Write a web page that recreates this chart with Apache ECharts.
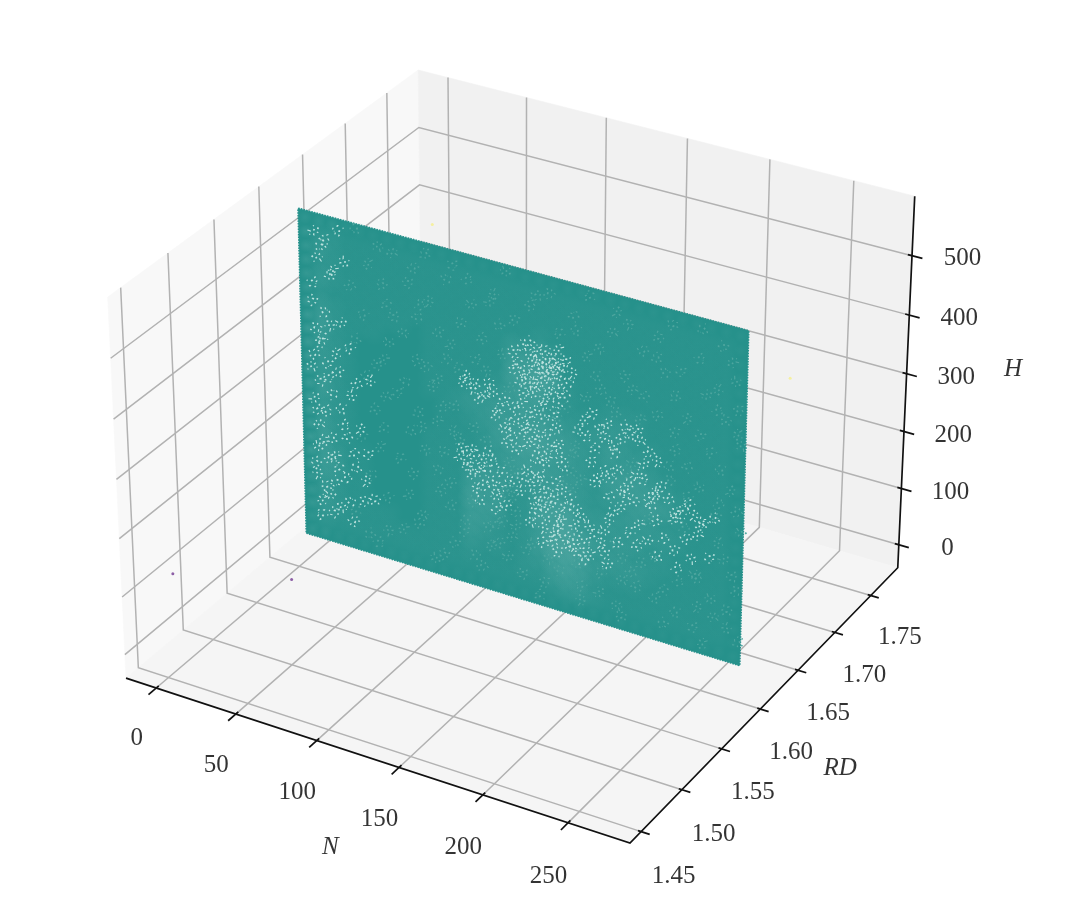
<!DOCTYPE html>
<html><head><meta charset="utf-8">
<script src="https://cdn.jsdelivr.net/npm/echarts@6/dist/echarts.min.js"></script>
<style>html,body{margin:0;padding:0;background:#fff}#c{width:1076px;height:899px;filter:blur(.5px)}</style>
</head><body><div id="c"></div>
<script>
// ---- axis data
const nTicks=[0,50,100,150,200,250];
const rdTicks=[1.45,1.50,1.55,1.60,1.65,1.70,1.75];
const hTicks=[0,100,200,300,400,500];
const nLim=[-19.2,285.8], rdLim=[1.4365,1.7885], hLim=[-41.2,598.8];
// ---- the sheet of points at RD 1.615
const sheetRD=1.615, sheetN=[-3.2,266.3], sheetH=[-3,558];
// lightness of the point cloud (top row = high H, left = low N)
const sheetDensity=[
"22211111111111111111111111111111",
"32211111111111111111111111111111",
"33211111111111111111111111111111",
"32211111111111111111111111111111",
"33211111111111111211111111111111",
"32111111111111133431111111111111",
"43211111011111145651111111111111",
"44211100011111156762111111111111",
"44210000011111245632112221111111",
"43210000011123345432223321111111",
"43210000011233445543233322111111",
"43210000001123455654324332111111",
"44210000001112456654323443211111",
"43210000011112345543324554321111",
"43210000011123344544323445421111",
"44210000011134433454322343221111",
"44211000011144422566333333321111",
"44311000011154412667433332211111",
"44311000011144312477643322211111",
"33211000011143212477633332111111",
"33211110011132212356532221111111",
"33211111111121112245421111111111",
"22111111111111111123321111111111",
"22111111111111111111111111111111"];
// bright gaps in the cloud [N,H], read region by region
const brightSpecks=[
[153,418],[151,424],[155,411],[141,410],[144,416],[147,404],[157,402],[150,396],[139,423],[134,431],[143,431],[160,427],[154,387],[145,385],[137,380],[149,374],[142,368],[133,374],[157,376],[140,358],[152,363],[131,402],[164,409],[148,436],[138,441],[156,442],[128,418],[162,392],[146,395],[136,392],[158,419],[149,413],[143,402],[152,405],[141,376],[129,388],[160,369],[147,352],[135,356],[155,350],
[134,336],[141,328],[147,319],[140,302],[144,288],[150,297],[155,310],[131,308],[135,288],[126,295],[152,275],[145,264],[137,270],[131,255],[142,247],[149,255],[157,262],[128,275],[123,284],[118,302],[138,318],[146,341],[129,326],[153,330],[136,296],[142,278],[148,244],[156,283],[125,262],[159,248],
[111,330],[105,346],[100,354],[116,341],[108,322],[120,316],[103,335],[114,354],[123,333],[98,344],
[176,352],[181,330],[185,341],[194,324],[199,335],[205,328],[168,319],[173,310],[189,308],[210,313],[178,295],[215,302],[184,318],[196,346],[172,338],[203,345],[190,296],[207,292],
[176,269],[184,262],[192,269],[199,255],[207,264],[215,251],[222,244],[231,236],[237,229],[243,222],[249,233],[226,225],[210,236],[188,252],[203,271],[218,262],[234,246],[180,245],[195,238],[241,216],[229,219],[213,243],
[105,225],[109,218],[101,209],[113,236],[108,198],[115,187],[111,176],[118,165],[103,189],[121,209],[97,229],[124,154],[118,141],[106,168],[100,200],[112,205],[95,215],[120,178],[108,148],[103,232],[126,196],[116,222],
[137,225],[142,214],[147,207],[139,198],[145,187],[151,176],[157,165],[153,189],[161,181],[166,154],[157,145],[149,154],[143,163],[168,137],[173,126],[163,115],[154,123],[178,148],[147,132],[134,209],[141,176],[176,110],[184,121],[150,197],[158,208],[145,219],[163,196],[170,170],[155,135],[161,128],[175,160],[152,112],[169,108],[182,135],[148,172],[141,150],[158,154],[165,118],[172,98],[186,103],[156,98],[146,108],[139,135],[167,182],[155,220],[133,186],
[178,236],[187,220],[194,209],[202,225],[189,196],[205,187],[215,203],[220,176],[210,165],[226,160],[199,170],[236,154],[233,187],[247,165],[187,181],[196,232],[212,224],[225,214],[204,150],[216,142],[240,198],[192,146],[228,132],[184,160],
[6,363],[10,352],[15,374],[5,319],[13,308],[19,330],[8,275],[16,258],[4,242],[12,225],[21,236],[7,198],[15,181],[23,209],[6,160],[13,143],[19,132],[5,110],[11,94],[17,105],[8,66],[15,50],[26,77],[6,528],[13,517],[21,539],[8,484],[16,462],[5,440],[25,490],[31,286],[29,165],[36,121],[42,94],[10,505],[18,470],[4,410],[12,395],[22,385],[9,340],[27,345],[3,295],[20,300],[14,285],[28,265],[6,222],[25,190],[33,210],[10,172],[30,140],[17,150],[4,130],[24,118],[13,80],[35,85],[7,40],[20,62],[28,45],[38,170],[40,300]];
// fainter gaps spread over the cloud [N,H]
const faintSpecks=[[32,550],[55,526],[75,541],[101,517],[124,548],[150,529],[174,545],[197,515],[223,535],[252,521],[40,497],[64,484],[88,508],[114,490],[139,502],[166,482],[188,495],[214,475],[239,491],[260,471],
[28,451],[51,438],[77,462],[97,442],[120,455],[173,444],[195,429],[219,453],[243,436],[262,424],[36,409],[61,396],[83,416],[106,387],[122,409],[181,394],[207,405],[232,387],[255,403],
[31,363],[49,343],[69,358],[88,374],[172,376],[225,358],[246,343],[264,367],[38,308],[57,292],[79,321],[92,297],[233,308],[258,288],[43,253],[65,233],[82,264],[95,244],[252,262],[265,225],
[34,198],[58,181],[74,207],[90,165],[126,189],[252,196],[260,145],[40,137],[63,121],[84,145],[99,106],[128,101],[206,123],[229,110],[248,97],[263,121],
[29,66],[50,46],[70,77],[92,60],[115,75],[134,42],[157,68],[181,50],[204,79],[227,55],[250,66],[265,37],[44,20],[80,24],[109,33],[145,15],[170,26],[195,20],[220,29],[244,15],
[103,143],[113,106],[130,123],[191,143],[214,141],[195,82],[168,90],[137,86],[155,330],[126,354],[160,350],[166,288],[164,244],[158,220],[126,229],[124,176],[223,277],[200,288],[187,380],[233,258],
[46,530],[68,512],[92,533],[117,505],[142,520],[165,505],[190,530],[215,508],[240,540],[258,500],[48,470],[72,452],[103,478],[129,470],[156,470],[180,462],[206,480],[228,462],[250,450],[55,420],[70,430],[90,400],[110,425],[178,415],[200,410],[225,420],[250,415],[52,375],[75,350],[95,365],[112,372],[215,380],[240,365],[262,385],[44,330],[62,315],[82,335],[226,330],[252,318],[50,280],[70,270],[85,290],[240,280],[262,255],[48,225],[72,245],[86,215],[250,240],[46,190],[66,160],[82,180],[255,170],[240,125],[50,105],[72,92],[90,125],[118,115],[140,100],[200,100],[220,88],[240,75],[258,85],[38,30],[60,58],[85,35],[105,50],[125,65],[148,38],[170,52],[192,35],[215,70],[238,38],[258,55],
[130,145],[122,125],[128,170],[130,215],[165,275],[170,235],[210,200],[232,205],[238,130],[195,120],[182,85],[150,80],[120,85],[98,85],[92,255],[104,270],[112,255],[165,215],[200,265],[222,300],[205,365],[190,365]];
// outliers [N,RD,H]
const lowOutliers=[[5,1.451,142],[79,1.451,196]];
const highOutliers=[[-4,1.775,356],[222,1.775,258]];

// ---- camera (elevation 30, azimuth -60) mapping axis values to the chart's plane
function proj(u,v,w){
  const dx=(u-.5)*1.19,dy=(v-.5)*1.19,dz=(w-.5)*.893;
  const x=.866*dx+.5*dy,y=-.25*dx+.433*dy+.866*dz,z=.433*dx-.75*dy+.5*dz;
  return [519+4852*x/(10-z),438-4863*y/(10-z)];
}
const U=n=>(n-nLim[0])/(nLim[1]-nLim[0]),V=r=>(r-rdLim[0])/(rdLim[1]-rdLim[0]),W=h=>(h-hLim[0])/(hLim[1]-hLim[0]);
const P=(n,r,h)=>proj(U(n),V(r),W(h));
const lerp=(a,b,t)=>a+(b-a)*t;

// ---- polygons and polylines
const polys=[];
function pane(c,color){polys.push({pts:c.map(a=>proj(a[0],a[1],a[2])),color});}
pane([[0,0,0],[0,1,0],[0,1,1],[0,0,1]],'#f8f8f8');
pane([[0,1,0],[1,1,0],[1,1,1],[0,1,1]],'#f1f1f1');
pane([[0,0,0],[1,0,0],[1,1,0],[0,1,0]],'#f5f5f5');
const grid=[],axes=[];
nTicks.forEach(n=>grid.push([P(n,rdLim[0],hLim[0]),P(n,rdLim[1],hLim[0]),P(n,rdLim[1],hLim[1])]));
rdTicks.forEach(r=>grid.push([P(nLim[1],r,hLim[0]),P(nLim[0],r,hLim[0]),P(nLim[0],r,hLim[1])]));
hTicks.forEach(h=>grid.push([P(nLim[1],rdLim[1],h),P(nLim[0],rdLim[1],h),P(nLim[0],rdLim[0],h)]));
axes.push([proj(0,0,0),proj(1,0,0),proj(1,1,0),proj(1,1,1)]);
nTicks.forEach(n=>axes.push([proj(U(n),-.024,0),proj(U(n),.008,0)]));
rdTicks.forEach(r=>axes.push([proj(.994,V(r),0),proj(1.016,V(r),0)]));
hTicks.forEach(h=>axes.push([proj(.992,1,W(h)),proj(1.02,1,W(h))]));
// the sheet: one flat polygon, a serrated outline and soft patches for the light areas
const sheetCorners=[P(sheetN[0],sheetRD,sheetH[0]),P(sheetN[1],sheetRD,sheetH[0]),P(sheetN[1],sheetRD,sheetH[1]),P(sheetN[0],sheetRD,sheetH[1])];
const sheetBase=[{pts:sheetCorners,color:'#26918b'}];
const sheetEdge=[[...sheetCorners,sheetCorners[0]]];
const rows=sheetDensity.length,cols=sheetDensity[0].length,patches=[];
for(let r=0;r<rows;r++)for(let c=0;c<cols;c++){
  const l=+sheetDensity[r][c]; if(!l) continue;
  const edge=r===0||c===0||r===rows-1||c===cols-1;
  const a=(l*.03).toFixed(3);
  patches.push({value:P(lerp(sheetN[0],sheetN[1],(c+.5)/cols),sheetRD,lerp(sheetH[1],sheetH[0],(r+.5)/rows)),
    symbolSize:edge?14:27,
    itemStyle:{color:{type:'radial',x:.5,y:.5,r:.5,colorStops:[{offset:0,color:`rgba(235,248,246,${a})`},{offset:1,color:'rgba(235,248,246,0)'}]}}});
}
// speck shapes: small irregular flecks, a drawing style for the gaps between points
const fleck=[
'path://M0 9L2 8L3 10L1 12ZM6 2L9 1L9 4L6 5ZM12 9L15 8L16 11L13 12ZM7 15L9 14L10 17L8 18ZM17 3L20 2L19 5ZM4 13L6 12L6 14ZM15 15L18 16L17 19L15 18Z',
'path://M1 3L4 2L5 5L2 6ZM9 0L11 0L11 3L9 3ZM14 6L18 4L18 7L15 8ZM7 8L10 8L10 11L7 11ZM0 13L3 12L3 15ZM12 14L14 13L15 20L13 20ZM18 12L20 12L20 14L18 14Z',
'path://M3 0L5 0L5 4L3 4ZM10 3L14 2L14 4L10 5ZM17 7L20 8L19 10L17 9ZM1 9L4 9L4 11L1 12ZM8 12L12 11L12 14L9 15ZM3 17L6 16L6 19L4 20ZM15 15L17 15L18 18L15 18Z'];
const speckle=list=>list.map((d,i)=>({value:P(d[0],sheetRD,d[1]),symbol:fleck[i%3],symbolRotate:(i*47)%360}));

function polyRender(list){return (params,api)=>{const it=list[params.dataIndex];
  return {type:'polygon',shape:{points:it.pts.map(p=>api.coord(p))},style:{fill:it.color,stroke:it.color,lineWidth:.6}};};}
function lineRender(list,color,w,dash){return (params,api)=>({type:'polyline',shape:{points:list[params.dataIndex].map(p=>api.coord(p))},style:{fill:null,stroke:color,lineWidth:w,lineJoin:'miter',lineDash:dash||null}});}
const custom=(list,renderItem,z)=>({type:'custom',coordinateSystem:'cartesian2d',z,silent:true,clip:false,renderItem,data:list.map((_,i)=>[i]),encode:{x:[],y:[]}});
const pts=(list,color,size,z,op)=>({type:'scatter',z,silent:true,symbol:'circle',symbolSize:size,data:list,itemStyle:{color,opacity:op===undefined?1:op}});
const font={fontFamily:'Liberation Serif',fontSize:25,color:'#000'};
const txt=(list,z,extra)=>({type:'scatter',z,silent:true,symbolSize:0,data:list.map(d=>({value:d.p,label:{show:true,position:'inside',formatter:d.t,align:'center',verticalAlign:'middle',...font,...extra}}))});
const lab=(t,p)=>({t,p});
const nLabels=nTicks.map(n=>{const q=proj(U(n),-.2,0);return lab(String(n),[q[0]+46-n*.02,q[1]-5-n*.008]);});
const rdLabels=rdTicks.map(r=>{const q=proj(1.115,V(r),0);return lab(r.toFixed(2),[q[0]-29,q[1]+25]);});
const hLabels=hTicks.map(h=>{const q=proj(1.09,1,W(h));return lab(String(h),[q[0]+3.5,q[1]-9]);});
const tN=proj(.56,-.345,0),tR=proj(1.27,.47,0),tH=proj(1.19,1,.5);
const titles=[lab('N',[tN[0]+38,tN[1]-23]),lab('RD',[tR[0]-63,tR[1]+17]),lab('H',[tH[0]+9,tH[1]-43])];

const chart=echarts.init(document.getElementById('c'),null,{renderer:'canvas'});
chart.setOption({
  animation:false,backgroundColor:'#fff',
  grid:{left:0,right:0,top:0,bottom:0},
  xAxis:{type:'value',min:0,max:1076,show:false},
  yAxis:{type:'value',min:0,max:899,inverse:true,show:false},
  series:[
    custom(polys,polyRender(polys),1),
    custom(grid,lineRender(grid,'#b2b2b2',1.5),2),
    custom(axes,lineRender(axes,'#111',1.7),3),
    pts(lowOutliers.map(d=>P(d[0],d[1],d[2])),'#8d5fa6',3,4),
    pts(highOutliers.map(d=>P(d[0],d[1],d[2])),'#f5f0a0',3,4),
    custom(sheetBase,polyRender(sheetBase),5),
    custom(sheetEdge,lineRender(sheetEdge,'#26918b',2,[1.5,1.2]),5),
    {type:'scatter',z:6,silent:true,symbol:'circle',data:patches},
    pts(speckle(faintSpecks),'#4ea69f',11,7),
    pts(speckle(brightSpecks),'#bfe3df',11,8),
    txt(nLabels,9),txt(rdLabels,9),txt(hLabels,9),
    txt(titles,9,{fontStyle:'italic'})
  ]
});
</script></body></html>
